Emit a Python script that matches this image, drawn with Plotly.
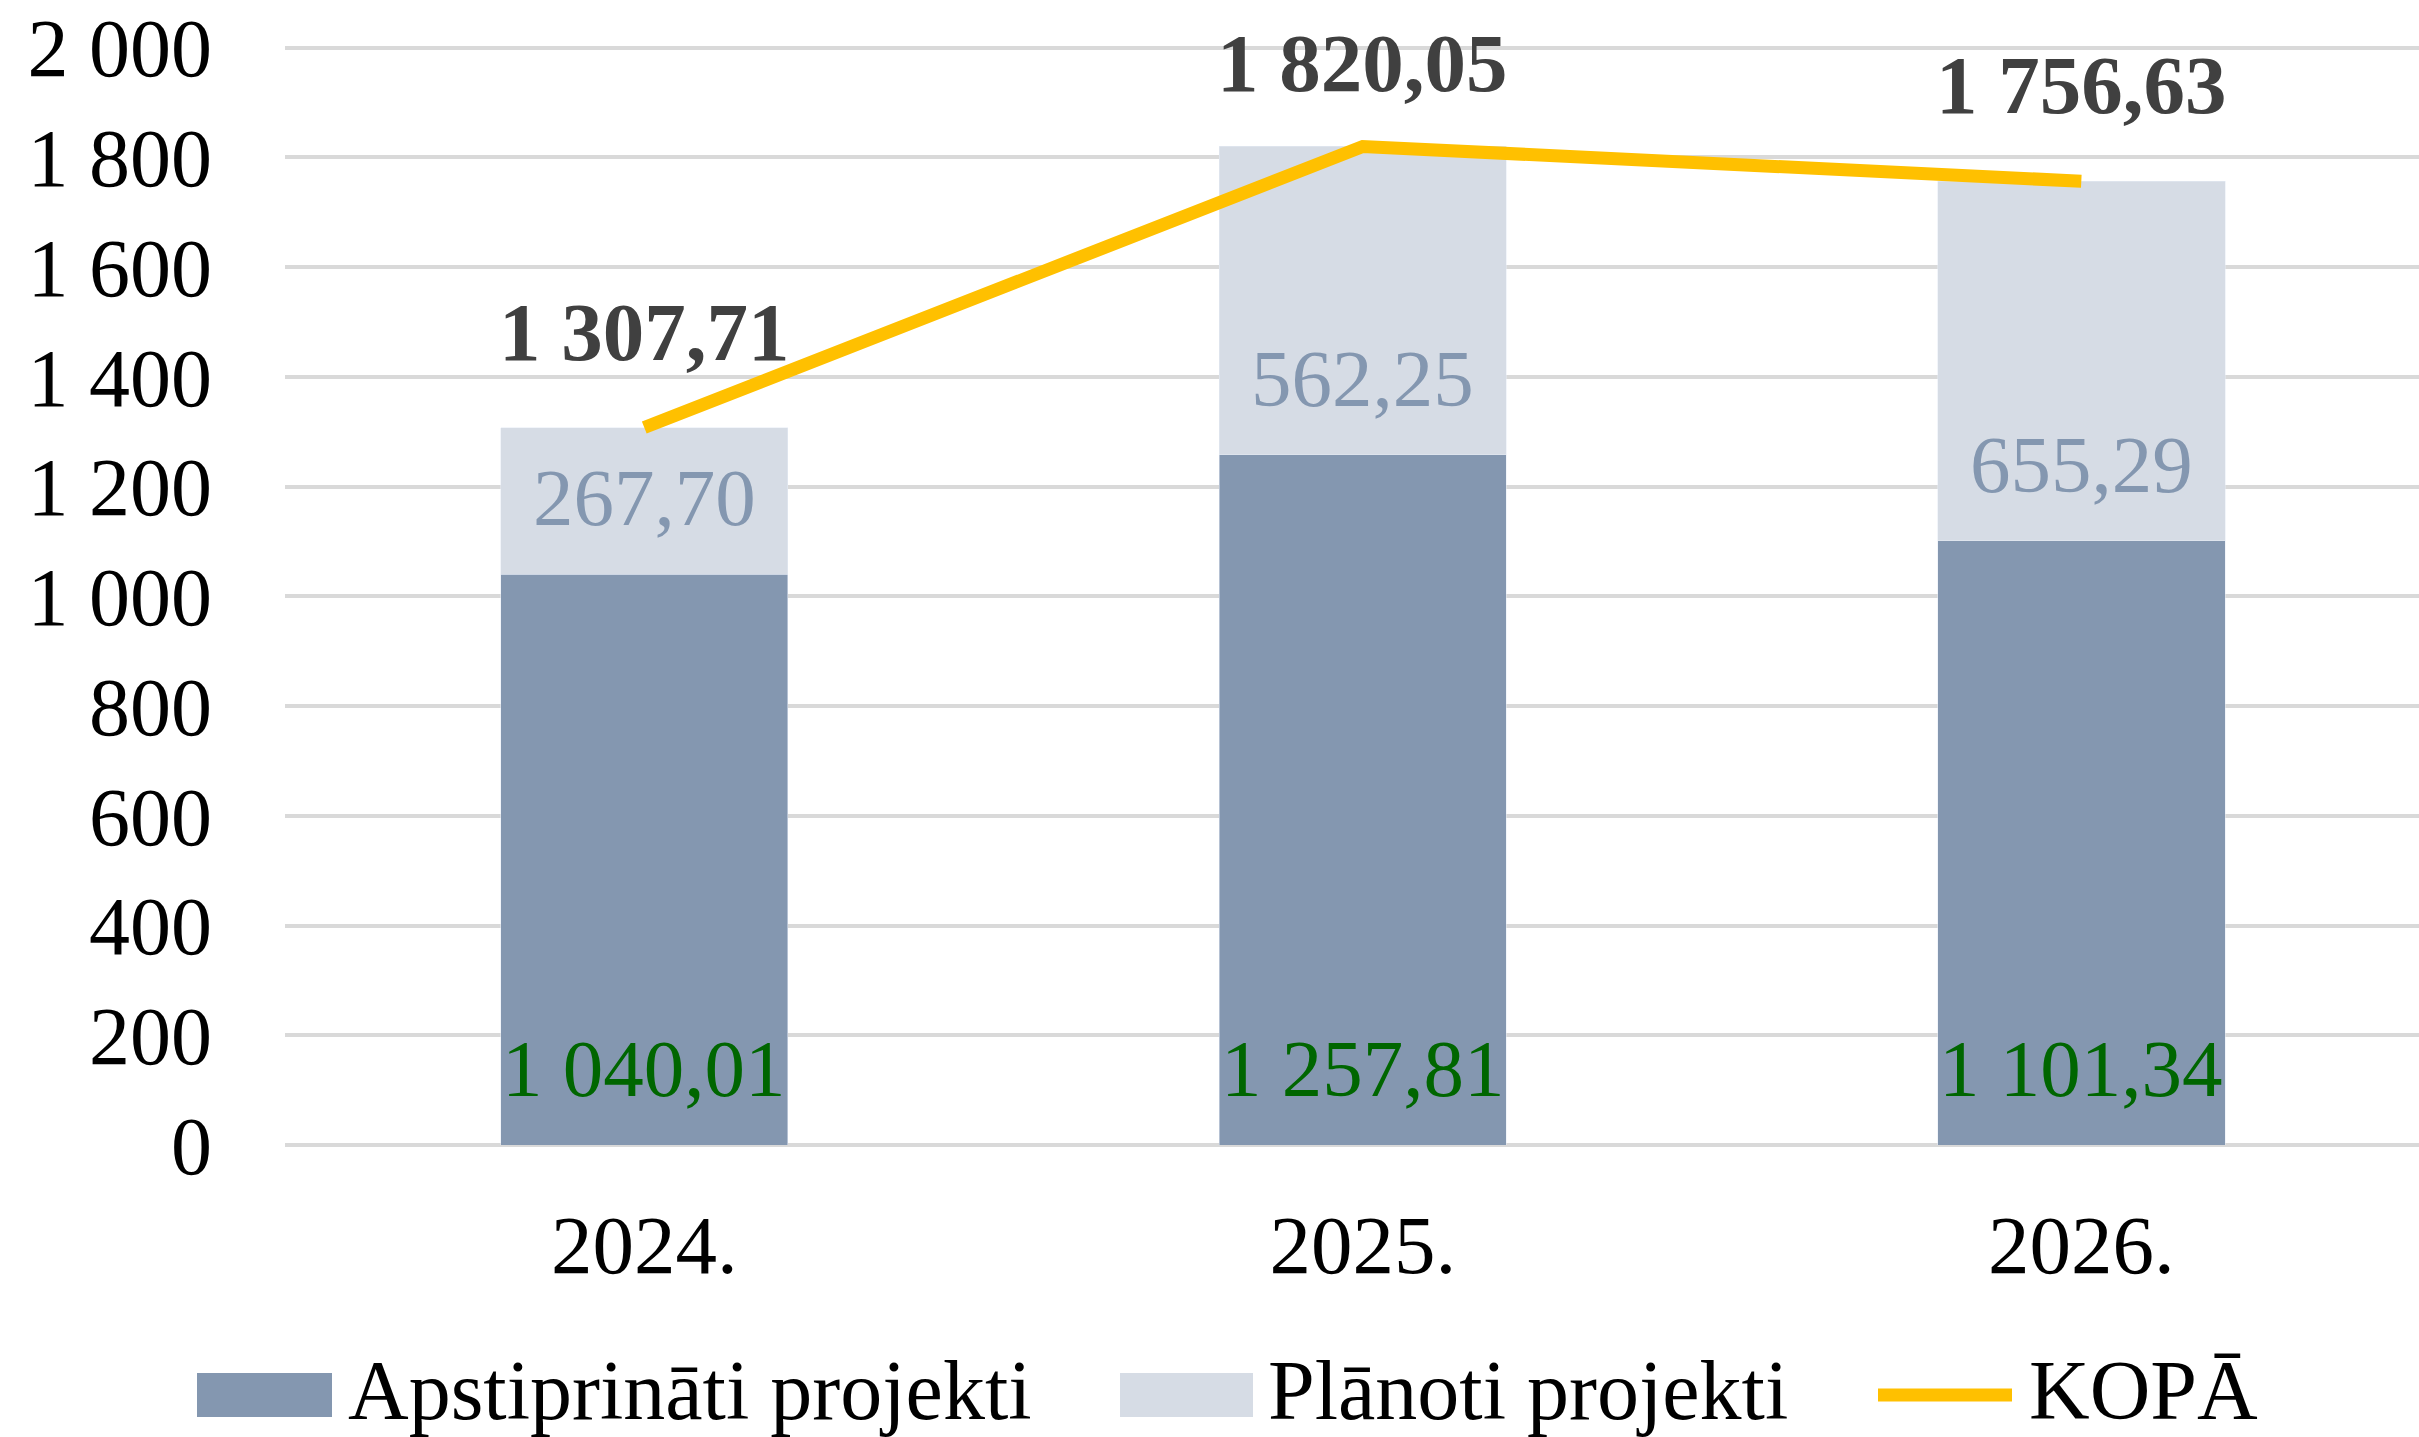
import plotly.graph_objects as go

categories = ["2024.", "2025.", "2026."]
approved = [1040.01, 1257.81, 1101.34]
planned = [267.70, 562.25, 655.29]
total = [1307.71, 1820.05, 1756.63]
approved_labels = ["1 040,01", "1 257,81", "1 101,34"]
planned_labels = ["267,70", "562,25", "655,29"]
total_labels = ["1 307,71", "1 820,05", "1 756,63"]
y_ticks = [0, 200, 400, 600, 800, 1000, 1200, 1400, 1600, 1800, 2000]
y_tick_text = ["0", "200", "400", "600", "800", "1 000", "1 200", "1 400", "1 600", "1 800", "2 000"]
series_names = ["Apstiprināti projekti", "Plānoti projekti", "KOPĀ"]

W, H = 2419, 1437
YMAX = 2005
L, R, T, B = 285, 0, 45, 292
PW, PH = W - L - R, H - T - B
FONT = "Liberation Serif"
DARK = "#8497B0"
LIGHT = "#D6DCE5"
GOLD = "#FFC000"

fig = go.Figure()
fig.add_trace(go.Bar(x=categories, y=approved, name=series_names[0], marker_color=DARK,
                     width=0.4, showlegend=False, hoverinfo="skip"))
fig.add_trace(go.Bar(x=categories, y=planned, name=series_names[1], marker_color=LIGHT,
                     width=0.4, showlegend=False, hoverinfo="skip"))
fig.add_trace(go.Scatter(x=categories, y=total, name=series_names[2], mode="lines",
                         line=dict(color=GOLD, width=13), showlegend=False, hoverinfo="skip"))

annotations = []
for i, lab in enumerate(approved_labels):
    annotations.append(dict(x=i, y=0, text=lab, showarrow=False, yshift=76, yanchor="middle",
                            font=dict(family=FONT, size=81, color="#006600")))
for i, (a, lab) in enumerate(zip(approved, planned_labels)):
    annotations.append(dict(x=i, y=a, text=lab, showarrow=False, yshift=76, yanchor="middle",
                            font=dict(family=FONT, size=81, color=DARK)))
for i, (t, lab) in enumerate(zip(total, total_labels)):
    px_from_top = T + (YMAX - t) / YMAX * PH
    shift = min(96, px_from_top - 63)
    annotations.append(dict(x=i, y=t, text="<b>" + lab + "</b>", showarrow=False, yshift=shift,
                            yanchor="middle", font=dict(family=FONT, size=83, color="#404040")))

def px(xp):
    return (xp - L) / PW

def py(yp):
    return (H - B - yp) / PH

shapes = []
legend_items = [
    ("rect", DARK, 197, 332, series_names[0], 346),
    ("rect", LIGHT, 1120, 1253, series_names[1], 1266),
    ("line", GOLD, 1878, 2012, series_names[2], 2027),
]
LY = 1395
TY = 1390
for kind, col, x0, x1, name, tx in legend_items:
    if kind == "rect":
        shapes.append(dict(type="rect", xref="paper", yref="paper", x0=px(x0), x1=px(x1),
                           y0=py(LY + 22), y1=py(LY - 22), fillcolor=col, line=dict(width=0)))
    else:
        shapes.append(dict(type="line", xref="paper", yref="paper", x0=px(x0), x1=px(x1),
                           y0=py(LY), y1=py(LY), line=dict(color=col, width=13)))
    annotations.append(dict(xref="paper", yref="paper", x=px(tx), y=py(TY), text=name,
                            showarrow=False, xanchor="left", yanchor="middle",
                            font=dict(family=FONT, size=84, color="#000000")))

fig.update_layout(
    width=W, height=H, barmode="stack",
    margin=dict(l=L, r=R, t=T, b=B, pad=0, autoexpand=False),
    plot_bgcolor="white", paper_bgcolor="white",
    font=dict(family=FONT, size=82, color="#000000"),
    annotations=annotations, shapes=shapes,
    xaxis=dict(type="category", range=[-0.5, 2.47], showgrid=False, zeroline=False,
               showline=False, automargin=False,
               ticks="", tickfont=dict(family=FONT, size=83, color="#000000"),
               ticklabelstandoff=44),
    yaxis=dict(range=[0, YMAX], tickvals=y_ticks, ticktext=y_tick_text, automargin=False,
               showgrid=True, gridcolor="#D9D9D9", gridwidth=4,
               zeroline=True, zerolinecolor="#D9D9D9", zerolinewidth=4,
               showline=False, ticks="", ticklabelstandoff=72,
               tickfont=dict(family=FONT, size=82, color="#000000")),
)

fig.write_html("out.html", config={"displayModeBar": False},
               post_script="document.body.style.margin='0';")
